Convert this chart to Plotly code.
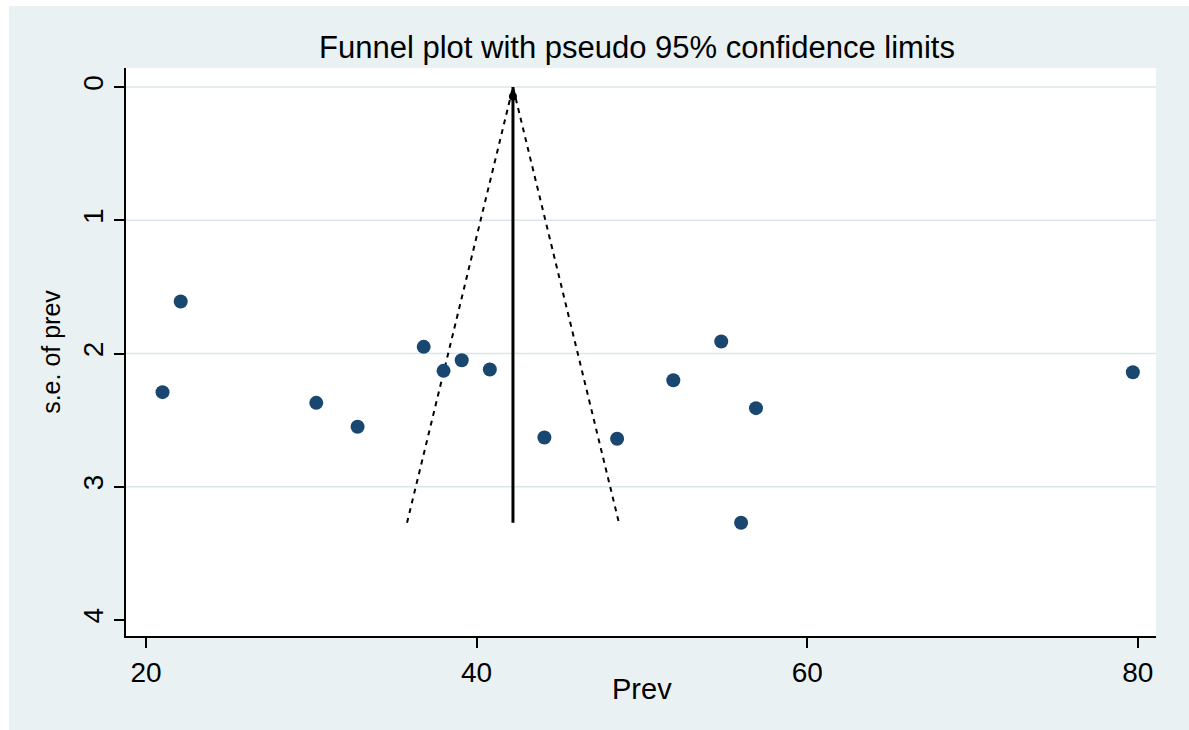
import plotly.graph_objects as go

# Study-level prevalence estimates and their standard errors
PREV = [22.1, 21.0, 30.3, 32.8, 36.8, 38.0, 39.1, 40.8, 44.1, 48.5, 51.9, 54.8, 56.9, 56.0, 79.7]
SE_PREV = [1.61, 2.29, 2.37, 2.55, 1.95, 2.13, 2.05, 2.12, 2.63, 2.64, 2.20, 1.91, 2.41, 3.27, 2.14]

# Pooled (fixed-effect) estimate
POOLED = 42.2
Z95 = 1.96

X_TICKS = [20, 40, 60, 80]
Y_TICKS = [0, 1, 2, 3, 4]
GRID_SE = [0, 1, 2, 3]

FONT = "Liberation Sans, Arial, sans-serif"
NAVY = "#1a476f"
BG = "#eaf1f3"
GRID = "#dbe6ea"

se_max = max(SE_PREV)

fig = go.Figure()

# pseudo 95% confidence limits
fig.add_trace(go.Scatter(
    x=[POOLED - Z95 * se_max, POOLED, POOLED + Z95 * se_max],
    y=[se_max, 0, se_max],
    mode="lines",
    line=dict(color="black", width=2, dash="5px,5px"),
    hoverinfo="skip", showlegend=False,
))

# pooled estimate line
fig.add_trace(go.Scatter(
    x=[POOLED, POOLED], y=[0, se_max],
    mode="lines",
    line=dict(color="black", width=3),
    hoverinfo="skip", showlegend=False,
))
fig.add_trace(go.Scatter(
    x=[POOLED], y=[0.07],
    mode="markers",
    marker=dict(color="black", size=8),
    hoverinfo="skip", showlegend=False,
))

# studies
fig.add_trace(go.Scatter(
    x=PREV, y=SE_PREV,
    mode="markers",
    marker=dict(color=NAVY, size=14, symbol="circle"),
    showlegend=False,
))

shapes = []
for g in GRID_SE:
    shapes.append(dict(type="line", xref="paper", yref="y", x0=0, x1=1, y0=g, y1=g,
                       line=dict(color=GRID, width=1.5), layer="below"))
# thin white frame at the left and top edges of the page
shapes.append(dict(type="rect", xref="paper", yref="paper",
                   x0=-0.13, x1=(9 - 126) / 1030, y0=-0.2, y1=1.2,
                   fillcolor="white", line=dict(width=0), layer="below"))
shapes.append(dict(type="rect", xref="paper", yref="paper",
                   x0=-0.13, x1=1.1, y0=(636 - 6) / 568, y1=1.2,
                   fillcolor="white", line=dict(width=0), layer="below"))

fig.update_layout(
    width=1189, height=730,
    margin=dict(l=126, r=33, t=68, b=94),
    paper_bgcolor=BG,
    plot_bgcolor="white",
    font=dict(family=FONT, color="black"),
    title=dict(text="Funnel plot with pseudo 95% confidence limits",
               x=637 / 1189, xanchor="center",
               y=1 - 47 / 730, yanchor="middle", yref="container",
               font=dict(size=31, family=FONT, color="black")),
    shapes=shapes,
    annotations=[dict(text="Prev", xref="paper", yref="paper",
                      x=(642 - 126) / 1030, y=(636 - 689) / 568,
                      xanchor="center", yanchor="middle", showarrow=False,
                      font=dict(size=29, family=FONT, color="black"))],
    xaxis=dict(
        range=[18.79, 81.10], tickvals=X_TICKS, showgrid=False, zeroline=False,
        showline=True, linecolor="black", linewidth=2,
        ticks="outside", ticklen=10, tickwidth=2, tickcolor="black",
        tickfont=dict(size=28, family=FONT, color="black"),
    ),
    yaxis=dict(
        range=[4.12, -0.143], tickvals=Y_TICKS, showgrid=False, zeroline=False,
        showline=True, linecolor="black", linewidth=2,
        ticks="outside", ticklen=10, tickwidth=2, tickcolor="black",
        tickangle=-90,
        tickfont=dict(size=28, family=FONT, color="black"),
        title=dict(text="s.e. of prev", font=dict(size=25, family=FONT, color="black"), standoff=10),
    ),
)

fig.write_html("out.html")
